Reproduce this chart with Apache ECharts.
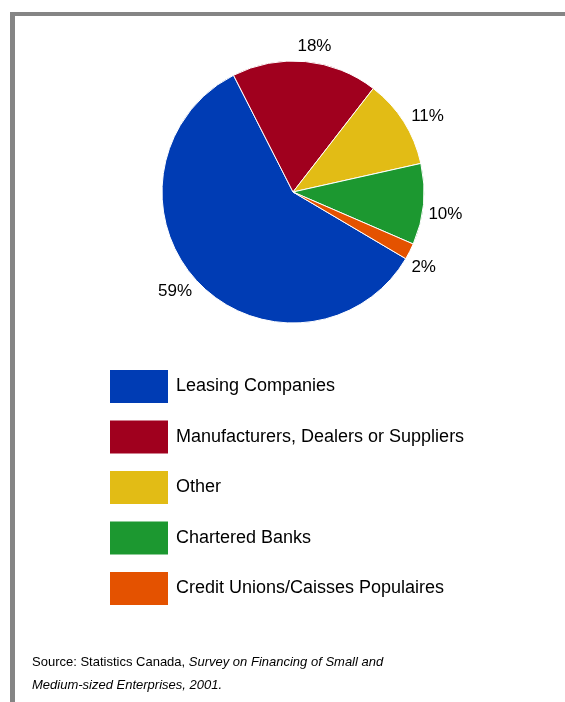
<!DOCTYPE html>
<html>
<head>
<meta charset="utf-8">
<script src="https://cdn.jsdelivr.net/npm/echarts@6/dist/echarts.min.js"></script>
<style>
  html, body { margin: 0; padding: 0; background: #fff; }
  #chart { width: 565px; height: 702px; }
</style>
</head>
<body>
<div id="chart"></div>
<script>
// Sources of equipment lease financing (share of SMEs)
const categories = [
  'Leasing Companies',
  'Manufacturers, Dealers or Suppliers',
  'Other',
  'Chartered Banks',
  'Credit Unions/Caisses Populaires'
];
const shares = [59, 18, 11, 10, 2];
const colors = ['#003CB4', '#A0001E', '#E2BC15', '#1C9830', '#E45200'];

const FONT = '"Liberation Sans Narrow", "Arial Narrow", "Liberation Sans", Arial, sans-serif';
const CX = 293, CY = 192, R = 131;
const START_ANGLE = -30.6;     // degrees, ECharts convention (counter-clockwise from 3 o'clock)
const LABEL_GAP = 5;           // space between rim and label box
const LABEL_ANGLE_SHIFT = 3;   // clockwise nudge of labels, degrees

const total = shares.reduce((a, b) => a + b, 0);

// Mid-angle of each slice, measured clockwise from 12 o'clock, in radians
function midAngle(i) {
  let before = 0;
  for (let k = 0; k < i; k++) before += shares[k];
  const startCw = 90 - START_ANGLE; // clockwise from 12 o'clock
  const deg = startCw + (before + shares[i] / 2) / total * 360 + LABEL_ANGLE_SHIFT;
  return deg * Math.PI / 180;
}

const chart = echarts.init(document.getElementById('chart'), null, { renderer: 'canvas' });

chart.setOption({
  animation: false,
  backgroundColor: '#ffffff',
  color: colors,
  title: {
    left: 32,
    top: 651,
    padding: 0,
    text: '{n|Source: Statistics Canada, }{i|Survey on Financing of Small and}\n{i|Medium-sized Enterprises, 2001.}',
    textStyle: {
      fontWeight: 'normal',
      rich: {
        n: { fontFamily: FONT, fontSize: 13, fontWeight: 'normal', color: '#000', lineHeight: 23 },
        i: { fontFamily: FONT, fontSize: 13, fontWeight: 'normal', fontStyle: 'italic', color: '#000', lineHeight: 23 }
      }
    }
  },
  legend: {
    orient: 'vertical',
    left: 110,
    top: 370,
    padding: 0,
    itemWidth: 58,
    itemHeight: 33,
    itemGap: 17.5,
    icon: 'rect',
    selectedMode: false,
    itemStyle: { borderWidth: 0 },
    data: categories,
    textStyle: {
      fontFamily: FONT,
      fontSize: 18,
      color: '#000',
      padding: [0, 0, 0, 3]
    }
  },
  graphic: [
    { type: 'rect', shape: { x: 10, y: 12, width: 555, height: 4 }, style: { fill: '#858585' }, silent: true },
    { type: 'rect', shape: { x: 10, y: 12, width: 5, height: 690 }, style: { fill: '#858585' }, silent: true }
  ],
  series: [{
    type: 'pie',
    center: [CX, CY],
    radius: [0, R],
    startAngle: START_ANGLE,
    clockwise: true,
    avoidLabelOverlap: false,
    itemStyle: { borderColor: '#ffffff', borderWidth: 1 },
    label: {
      show: true,
      position: 'outside',
      formatter: '{c}%',
      fontFamily: FONT,
      fontSize: 17,
      color: '#000'
    },
    labelLine: { show: false },
    labelLayout: function (p) {
      const a = midAngle(p.dataIndex);
      const s = Math.sin(a), c = -Math.cos(a);
      const hw = p.labelRect.width / 2, hh = p.labelRect.height / 2;
      const d = R + LABEL_GAP + Math.abs(s) * hw + Math.abs(c) * hh;
      return {
        x: CX + s * d,
        y: CY + c * d,
        align: 'center',
        verticalAlign: 'middle'
      };
    },
    emphasis: { disabled: true },
    data: categories.map((name, i) => ({ name: name, value: shares[i] }))
  }]
});
</script>
</body>
</html>
